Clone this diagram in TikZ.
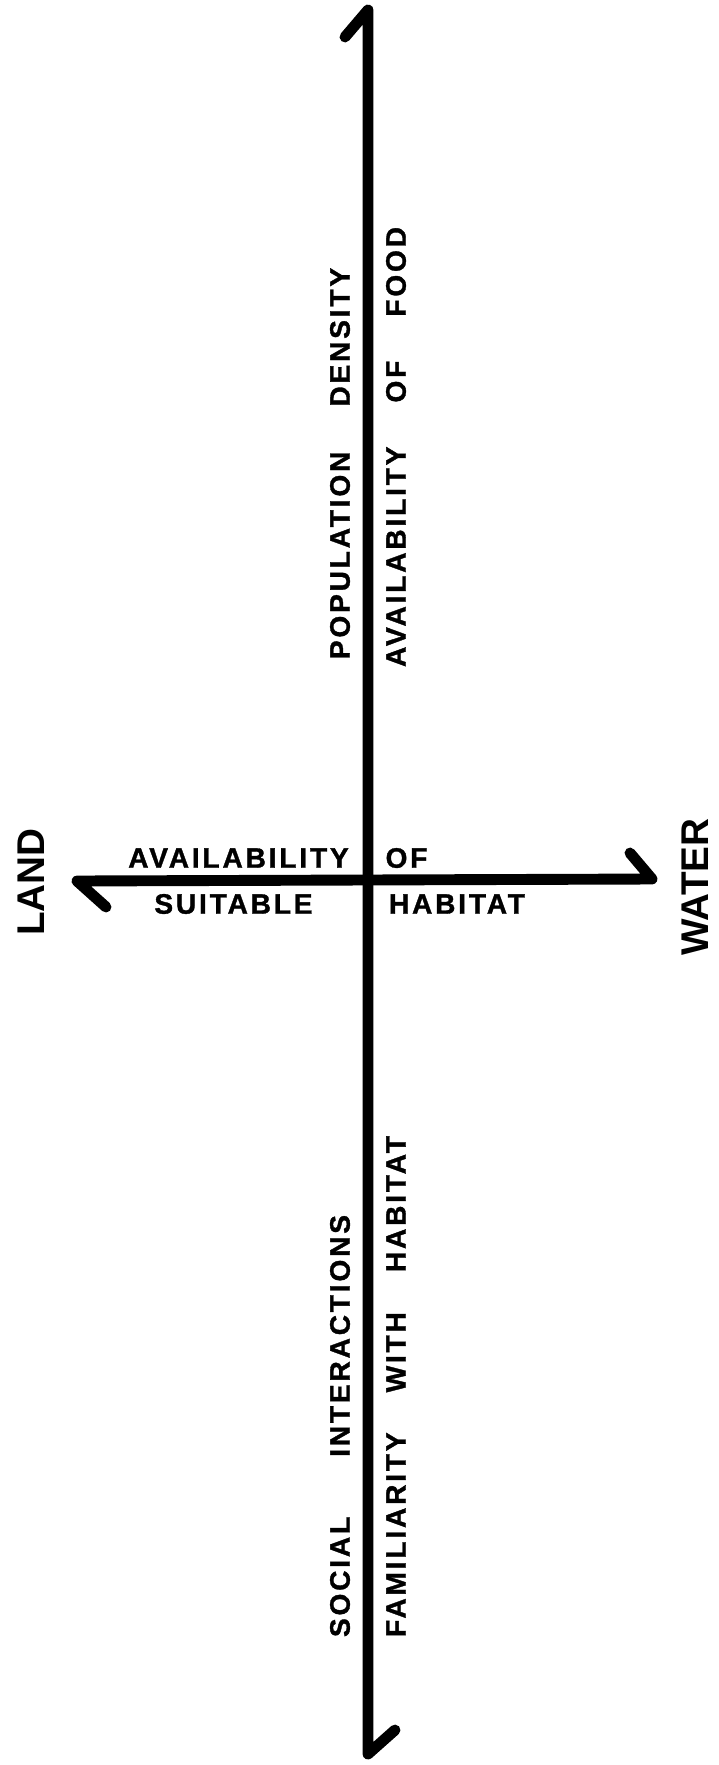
\documentclass[tikz,border=0pt]{standalone}
\usepackage{fontspec}
\setmainfont{Liberation Sans}
\newfontfamily\axisfont{Liberation Sans}[LetterSpace=10, BoldFeatures={FakeBold=1.2}]
\usetikzlibrary{positioning}

\begin{document}
\begin{tikzpicture}[
          axisline/.style={black, line width=6.2pt, line cap=round, line join=round},
          axislabel/.style={inner sep=0pt, font=\fontsize{16}{18}\selectfont\axisfont\bfseries},
          sidelabel/.style={inner sep=0pt, rotate=90, font=\fontsize{22}{24}\selectfont\bfseries}
        ]
        \useasboundingbox (0, 0) rectangle (14.38, -35.3);

        % ----------------------------------------------------
        % AXES (end points and half arrow heads)
        % ----------------------------------------------------
        \coordinate (top) at (7.36, -0.2);
        \coordinate (topHook) at (6.9, -0.74);
        \coordinate (bottom) at (7.36, -35.08);
        \coordinate (bottomHook) at (7.9, -34.6);
        \coordinate (left) at (1.54, -17.62);
        \coordinate (leftHook) at (2.12, -18.14);
        \coordinate (right) at (13.04, -17.58);
        \coordinate (rightHook) at (12.6, -17.06);

        \draw[axisline] (topHook) -- (top) -- (bottom) -- (bottomHook);
        \draw[axisline] (leftHook) -- (left) -- (right) -- (rightHook);

        % ----------------------------------------------------
        % END LABELS
        % ----------------------------------------------------
        \node (land) at (0.62, -17.64) [sidelabel] {LAND};
        \node (water) at (13.9, -17.74) [sidelabel] {WATER};

        % ----------------------------------------------------
        % HORIZONTAL AXIS LABELS
        % ----------------------------------------------------
        \node (avail) at (4.77, -17.16) [axislabel] {AVAILABILITY};
        \node (of) at (8.13, -17.16) [axislabel] {OF};
        \node (suitable) at (4.67, -18.08) [axislabel] {SUITABLE};
        \node (habitat) at (9.14, -18.08) [axislabel] {HABITAT};

        % ----------------------------------------------------
        % VERTICAL AXIS LABELS
        % ----------------------------------------------------
        \node (popdens) at (6.8, -9.27) [axislabel, rotate=90] {POPULATION\hspace{0.9cm}DENSITY};
        \node (food) at (7.92, -8.94) [axislabel, rotate=90] {AVAILABILITY\hspace{0.88cm}OF\hspace{0.88cm}FOOD};
        \node (social) at (6.8, -28.52) [axislabel, rotate=90] {SOCIAL\hspace{1.2cm}INTERACTIONS};
        \node (familiar) at (7.92, -27.73) [axislabel, rotate=90] {FAMILIARITY\hspace{0.8cm}WITH\hspace{0.8cm}HABITAT};
      \end{tikzpicture}
\end{document}
